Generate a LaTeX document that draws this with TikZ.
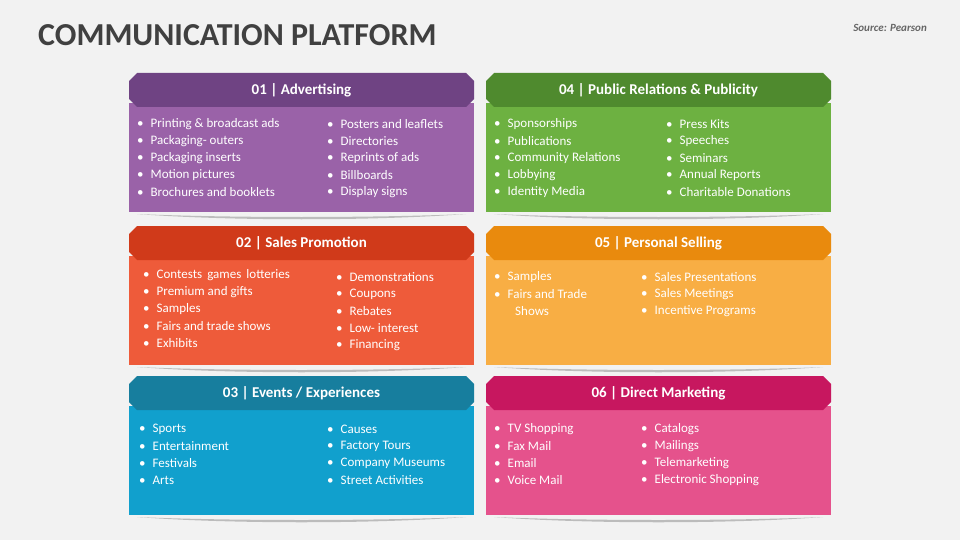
\documentclass[tikz,border=0pt]{standalone}
\usepackage{fontspec}
\setmainfont{Carlito}
\begin{document}
\begin{tikzpicture}[x=1pt,y=-1pt,
  itm/.style={anchor=west,text=white,font=\fontsize{13}{15}\selectfont,inner sep=0pt},
  hdr/.style={text=white,font=\bfseries\fontsize{15}{17}\selectfont}]
\definecolor{bg}{HTML}{F2F2F2}
\fill[bg] (0,0) rectangle (960,540);
\useasboundingbox (0,0) rectangle (960,540);
\node[anchor=west,text=black!75,font=\bfseries\fontsize{32}{36}\selectfont,inner sep=0pt] (title) at (38,35) {COMMUNICATION PLATFORM};
\node[anchor=east,text=black!60,font=\bfseries\itshape\fontsize{11}{13}\selectfont,inner sep=0pt] (src) at (927,28) {Source: Pearson};
% panel macro: #1 x, #2 y, #3 header color, #4 body color, #5 title, #6 name
\newcommand{\panel}[6]{%
  \fill[black!40,opacity=0.6] (#1+8,#2+141) .. controls (#1+100,#2+145) and (#1+245,#2+145) .. (#1+337,#2+141) .. controls (#1+245,#2+148) and (#1+100,#2+148) .. cycle;
  \fill[#4] (#1,#2+30) rectangle (#1+345,#2+139);
  \fill[#3] (#1+8,#2) -- (#1+337,#2) -- (#1+345,#2+8) -- (#1+345,#2+26) -- (#1+337,#2+34) -- (#1+8,#2+34) -- (#1,#2+26) -- (#1,#2+8) -- cycle;
  \node[hdr] (#6) at (#1+172.5,#2+17) {#5};}
\newcommand{\col}[4]{% x,y,name,items
  \foreach \t [count=\i] in {#4} {
    \node[itm] (#3\i) at (#1,#2+17*\i-17) {\textbullet\hspace{7pt}\t};}}
\definecolor{h1}{HTML}{6F4383}\definecolor{b1}{HTML}{9A62A8}
\definecolor{h4}{HTML}{4F8A2E}\definecolor{b4}{HTML}{6DB141}
\definecolor{h2}{HTML}{D03A1A}\definecolor{b2}{HTML}{EE5B3A}
\definecolor{h5}{HTML}{E98A0D}\definecolor{b5}{HTML}{F8AE44}
\definecolor{h3}{HTML}{177E9E}\definecolor{b3}{HTML}{11A0CD}
\definecolor{h6}{HTML}{C7175F}\definecolor{b6}{HTML}{E5528C}
\panel{129}{73}{h1}{b1}{01 | Advertising}{t1}
\panel{486}{73}{h4}{b4}{04 | Public Relations \& Publicity}{t4}
\panel{129}{226}{h2}{b2}{02 | Sales Promotion}{t2}
\panel{486}{226}{h5}{b5}{05 | Personal Selling}{t5}
\panel{129}{376}{h3}{b3}{03 | Events / Experiences}{t3}
\panel{486}{376}{h6}{b6}{06 | Direct Marketing}{t6}
\col{137}{124}{a}{Printing \& broadcast ads,Packaging- outers,Packaging inserts,Motion pictures,Brochures and booklets}
\col{327}{124}{b}{Posters and leaflets,Directories,Reprints of ads,Billboards,Display signs}
\col{494}{124}{c}{Sponsorships,Publications,Community Relations,Lobbying,Identity Media}
\col{666}{124}{d}{Press Kits,Speeches,Seminars,Annual Reports,Charitable Donations}
\col{143}{275}{e}{Contests\, games\, lotteries,Premium and gifts,Samples,Fairs and trade shows,Exhibits}
\col{336}{277}{f}{Demonstrations,Coupons,Rebates,Low- interest,Financing}
\col{494}{277}{g}{Samples,Fairs and Trade}
\node[itm] (g3) at (515,311) {Shows};
\col{641}{277}{h}{Sales Presentations,Sales Meetings,Incentive Programs}
\col{139}{429}{i}{Sports,Entertainment,Festivals,Arts}
\col{327}{429}{j}{Causes,Factory Tours,Company Museums,Street Activities}
\col{494}{429}{k}{TV Shopping,Fax Mail,Email,Voice Mail}
\col{641}{429}{l}{Catalogs,Mailings,Telemarketing,Electronic Shopping}
\end{tikzpicture}
\end{document}
